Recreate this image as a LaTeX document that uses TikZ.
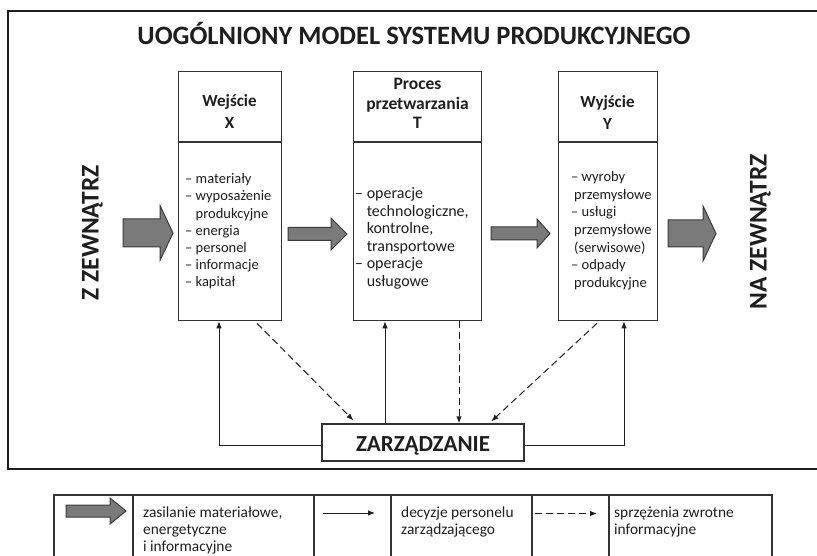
\documentclass[tikz,border=0pt]{standalone}
\usepackage{fontspec}
\setmainfont{Carlito}
\usetikzlibrary{arrows.meta,calc}

\definecolor{ink}{HTML}{1E1E1E}
\definecolor{edge}{HTML}{333333}
\definecolor{arrowfill}{HTML}{7A7A7A}
\definecolor{arrowedge}{HTML}{3A3A3A}

\newcommand\titlefont{\fontsize{26.5}{30}\selectfont\bfseries}
\newcommand\sidefont{\fontsize{25.5}{30}\selectfont\bfseries}
\newcommand\mgmtfont{\fontsize{23}{27}\selectfont\bfseries}
\newcommand\headfont{\fontsize{17}{22}\selectfont\bfseries}
\newcommand\procheadfont{\fontsize{17.5}{19.5}\selectfont\bfseries}
\newcommand\listfont{\fontsize{14.5}{17.2}\selectfont}
\newcommand\proclistfont{\fontsize{16}{17.6}\selectfont}
\newcommand\outlistfont{\fontsize{14.5}{17.6}\selectfont}
\newcommand\legendfont{\fontsize{15.4}{17}\selectfont}

% block arrow: shaft start, shaft end, tip, centre line, half shaft, half head
\newcommand\flowarrow[6]{%
  \draw[bigarrow] (#1,#4-#5) -- (#2,#4-#5) -- (#2,#4-#6) -- (#3,#4)
    -- (#2,#4+#6) -- (#2,#4+#5) -- (#1,#4+#5) -- cycle;}

\begin{document}
\begin{tikzpicture}[x=1pt,y=-1pt,
  every node/.style={inner sep=0pt,text=ink},
  frame/.style={draw=ink,line width=1.4pt},
  stagebox/.style={draw=edge,line width=1.3pt,fill=white,anchor=north west,
    minimum height=249pt},
  mgmtbox/.style={draw=edge,line width=1.3pt,fill=white,minimum width=202pt,
    minimum height=37pt},
  bigarrow/.style={draw=arrowedge,fill=arrowfill,line width=1pt,line join=miter},
  decision/.style={draw=ink,line width=1pt,-{Latex[length=7pt,width=5.5pt]}},
  feedback/.style={decision,dash pattern=on 7pt off 4pt},
  listtext/.style={anchor=north west,align=left},
  headtext/.style={anchor=north,align=center},
  legendline/.style={draw=edge,line width=1.2pt}]

\useasboundingbox (0,0) rectangle (817,556);
\clip (0,0) rectangle (817,556);

% outer frame (right side runs past the page edge)
\draw[frame] (8,11) rectangle (840,469);

\node[font=\titlefont,anchor=base] (title) at (414,45)
  {UOGÓLNIONY MODEL SYSTEMU PRODUKCYJNEGO};

% the three stages
\coordinate (hdr) at (0,142);
\node[stagebox,minimum width=103pt] (inbox) at (178,71) {};
\node[stagebox,minimum width=128pt] (procbox) at (353,71) {};
\node[stagebox,minimum width=99pt] (outbox) at (558,71) {};
\foreach \b in {inbox,procbox,outbox}
  \draw[draw=edge,line width=1.3pt] (\b.west |- hdr) -- (\b.east |- hdr);

\node[headtext,font=\headfont] (inhead) at (229.5,90.6) {\strut Wejście\\X};
\node[headtext,font=\procheadfont] (prochead) at (417.5,75.9)
  {\strut Proces\\przetwarzania\\T};
\node[headtext,font=\headfont] (outhead) at (607.5,91.6) {\strut Wyjście\\Y};

\node[listtext,font=\listfont] (inlist) at (185,171.4)
  {\strut– materiały\\– wyposażenie\\\hphantom{– }produkcyjne\\– energia\\%
   – personel\\– informacje\\– kapitał};
\node[listtext,font=\proclistfont] (proclist) at (355,186)
  {\strut– operacje\\\hphantom{– }technologiczne,\\\hphantom{– }kontrolne,\\%
   \hphantom{– }transportowe\\– operacje\\\hphantom{– }usługowe};
\node[listtext,font=\outlistfont] (outlist) at (571,169.2)
  {\strut– wyroby\\\hspace*{3pt}przemysłowe\\– usługi\\\hspace*{3pt}przemysłowe\\%
   \hspace*{3pt}(serwisowe)\\– odpady\\\hspace*{3pt}produkcyjne};

% side labels
\node[font=\sidefont,rotate=90,anchor=base] (fromout) at (98.5,233) {Z ZEWNĄTRZ};
\node[font=\sidefont,rotate=90,anchor=base] (toout) at (766.5,232) {NA ZEWNĄTRZ};

% material, energy and information flow
\flowarrow{123}{160}{173}{233}{14}{27.5}
\flowarrow{288}{331}{347}{234}{6.5}{16}
\flowarrow{491}{537}{550}{233.5}{6.5}{14.5}
\flowarrow{668}{703}{716}{233.5}{13.5}{27.5}

% management
\node[mgmtbox] (mgmt) at (423,442.5) {};
\node[font=\mgmtfont,anchor=base] (mgmtlabel) at (423,451) {ZARZĄDZANIE};

\coordinate (inup) at ([xshift=41pt]inbox.south west);
\coordinate (procup) at ([xshift=32pt]procbox.south west);
\coordinate (outup) at ([xshift=66pt]outbox.south west);
\draw[decision] ([yshift=-2.5pt]mgmt.west) -| (inup);
\draw[decision] (mgmt.north -| procup) -- (procup);
\draw[decision] ([yshift=-2.5pt]mgmt.east) -| (outup);

\coordinate (infb) at ([xshift=79pt,yshift=-2pt]inbox.south west);
\coordinate (procfb) at ([xshift=106pt]procbox.south west);
\coordinate (outfb) at ([xshift=39pt,yshift=-2pt]outbox.south west);
\draw[feedback] (infb) -- ([xshift=32pt,yshift=3pt]mgmt.north west);
\draw[feedback] (procfb) -- (procfb |- mgmt.north);
\draw[feedback] (outfb) -- ([xshift=170pt,yshift=2pt]mgmt.north west);

% legend
\draw[legendline] (54,600) -- (54,495) -- (772,495) -- (772,600);
\foreach \x in {133,314,391,532,609}
  \draw[legendline] (\x,495) -- (\x,600);
\flowarrow{66}{110}{126}{511}{6}{13}
\coordinate (solida) at (323,513);
\coordinate (solidb) at (375,513);
\draw[decision] (solida) -- (solidb);
\coordinate (dasha) at (535,513.5);
\coordinate (dashb) at (597,513.5);
\draw[feedback] (dasha) -- (dashb);
\node[listtext,font=\legendfont] (legflow) at (143,505)
  {\strut zasilanie materiałowe,\\energetyczne\\i informacyjne};
\node[listtext,font=\legendfont] (legdec) at (401,505)
  {\strut decyzje personelu\\zarządzającego};
\node[listtext,font=\legendfont] (legfb) at (614,505)
  {\strut sprzężenia zwrotne\\informacyjne};
\end{tikzpicture}
\end{document}
